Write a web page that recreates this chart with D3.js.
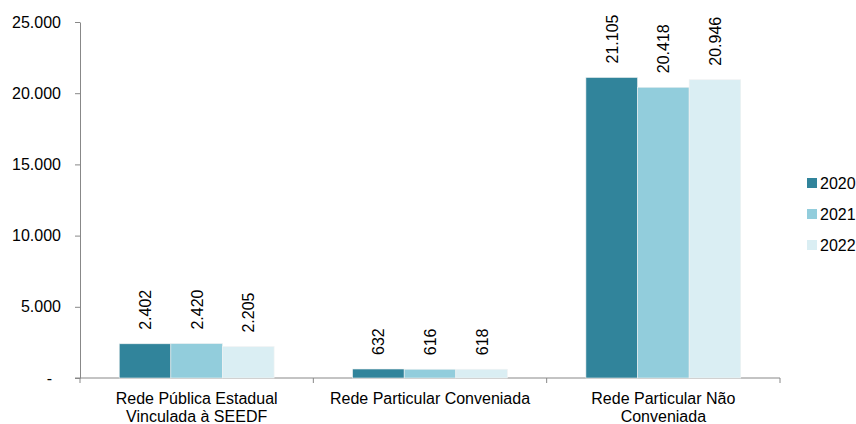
<!DOCTYPE html>
<html><head><meta charset="utf-8">
<script src="https://cdn.jsdelivr.net/npm/d3@7"></script>
<style>body{margin:0;background:#fff}svg{display:block;font-family:"Liberation Sans",Arial,sans-serif}</style>
</head><body><svg id="c" width="856" height="424"></svg>
<script>
const categories = [["Rede Pública Estadual","Vinculada à SEEDF"],["Rede Particular Conveniada"],["Rede Particular Não","Conveniada"]];
const series = ["2020","2021","2022"];
const values2020 = [2402, 632, 21105];
const values2021 = [2420, 616, 20418];
const values2022 = [2205, 618, 20946];
const yTicks = [0,5000,10000,15000,20000,25000];
const colors = ["#31849b","#92cddc","#daeef3"];

const svg = d3.select("#c");
const m = {l:80, r:780, t:22, b:378};
const x = d3.scaleBand().domain(d3.range(categories.length)).range([m.l, m.r]).paddingInner(0).paddingOuter(0);
const x1 = d3.scaleBand().domain(series).range([0, x.bandwidth()]).paddingOuter(0.76).paddingInner(0);
const y = d3.scaleLinear().domain([0,25000]).range([m.b, m.t]);
const fmt = v => v===0 ? "-" : d3.format(",")(v).replace(/,/g,".");
const allVals = [values2020, values2021, values2022];
const FS = 16;

// y axis
const ya = svg.append("g").attr("transform",`translate(${m.l},0)`)
  .call(d3.axisLeft(y).tickValues(yTicks).tickFormat(fmt).tickSize(5).tickSizeOuter(0));
ya.select(".domain").attr("stroke","#888");
ya.selectAll(".tick line").attr("stroke","#888");
ya.selectAll("text").attr("font-size",FS).attr("fill","#000").attr("x",d=>d===0?-28:-19).attr("font-family","Liberation Sans, Arial");

// x axis
const xa = svg.append("g").attr("transform",`translate(0,${m.b})`);
xa.append("line").attr("x1",m.l-5).attr("x2",m.r).attr("stroke","#888");
[0,1,2,3].forEach(i=>{
  const px = i<3 ? x(i) : m.r;
  xa.append("line").attr("x1",px).attr("x2",px).attr("y1",0).attr("y2",5).attr("stroke","#888");
});

// bars
series.forEach((s,si)=>{
  const g = svg.append("g");
  g.selectAll("rect").data(allVals[si]).join("rect")
    .attr("x",(d,i)=>x(i)+x1(s)).attr("width",x1.bandwidth())
    .attr("y",d=>y(d)).attr("height",d=>y(0)-y(d))
    .attr("fill",colors[si]).attr("stroke","#f2f2f2").attr("stroke-width",0.6);
  g.selectAll("text").data(allVals[si]).join("text")
    .attr("transform",(d,i)=>`translate(${x(i)+x1(s)+x1.bandwidth()/2+6},${y(d)-14}) rotate(-90)`)
    .attr("font-size",FS).attr("fill","#000").text(d=>fmt(d));
});

// category labels
categories.forEach((lines,i)=>{
  const t = svg.append("text").attr("x",x(i)+x.bandwidth()/2).attr("y",404)
    .attr("text-anchor","middle").attr("font-size",FS).attr("fill","#000");
  lines.forEach((l,j)=>t.append("tspan").attr("x",x(i)+x.bandwidth()/2).attr("dy",j?18:0).text(l));
});

// legend
series.forEach((s,i)=>{
  const ly = 183 + i*31;
  svg.append("rect").attr("x",807).attr("y",ly-5).attr("width",10).attr("height",10).attr("fill",colors[i]);
  svg.append("text").attr("x",820).attr("y",ly+6).attr("font-size",FS).attr("fill","#000").text(s);
});
</script></body></html>
